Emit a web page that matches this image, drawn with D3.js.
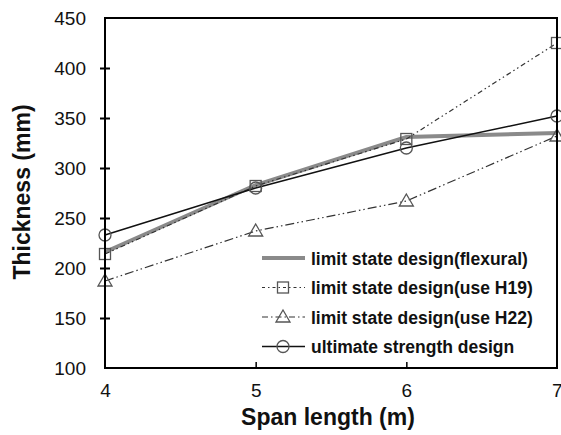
<!DOCTYPE html>
<meta charset="utf-8">
<script src="https://d3js.org/d3.v7.min.js"></script>
<style>
body { margin: 0; background: #fff; }
text { font-family: "Liberation Sans", Arial, sans-serif; fill: #111; }
</style>
<div id="chart"></div>
<script>

// data
var spans = [4, 5, 6, 7];
var flexural = [216, 283, 331, 335];
var useH19 = [214, 282, 329, 425];
var useH22 = [187, 237, 267, 332];
var ultimate = [233, 280, 320, 352];
var xTicks = [4, 5, 6, 7];
var yTicks = [100, 150, 200, 250, 300, 350, 400, 450];
var legendLabels = ["limit state design(flexural)", "limit state design(use H19)",
                    "limit state design(use H22)", "ultimate strength design"];

var width = 561, height = 435;
var margin = {top: 18, right: 4, bottom: 67, left: 105};

var svg = d3.select("#chart").append("svg")
    .attr("width", width)
    .attr("height", height);

var x = d3.scaleLinear().domain([4, 7]).range([margin.left, width - margin.right]);
var y = d3.scaleLinear().domain([100, 450]).range([height - margin.bottom, margin.top]);

// series definitions
var series = [
  {values: flexural, stroke: "#8a8a8a", width: 4, dash: null, marker: null},
  {values: useH19, stroke: "#333", width: 1.2, dash: "5,3,1.5,3,1.5,3", marker: "square"},
  {values: useH22, stroke: "#333", width: 1.2, dash: "9,3,1.5,3,1.5,3", marker: "triangle"},
  {values: ultimate, stroke: "#111", width: 1.5, dash: null, marker: "circle"}
];

var line = d3.line()
  .x(function(d) { return x(d[0]); })
  .y(function(d) { return y(d[1]); });

function drawMarker(g, type, cx, cy) {
  if (type == "square") {
    g.append("rect").attr("x", cx - 5.5).attr("y", cy - 5.5).attr("width", 11).attr("height", 11)
      .attr("fill", "none").attr("stroke", "#555").attr("stroke-width", 1.3);
  } else if (type == "triangle") {
    g.append("path").attr("d", "M" + cx + "," + (cy - 7) + "L" + (cx + 7) + "," + (cy + 5) + "L" + (cx - 7) + "," + (cy + 5) + "Z")
      .attr("fill", "none").attr("stroke", "#555").attr("stroke-width", 1.3);
  } else if (type == "circle") {
    g.append("circle").attr("cx", cx).attr("cy", cy).attr("r", 6)
      .attr("fill", "none").attr("stroke", "#555").attr("stroke-width", 1.3);
  }
}

var plot = svg.append("g");

series.forEach(function(s) {
  var pts = spans.map(function(v, i) { return [v, s.values[i]]; });
  plot.append("path")
    .datum(pts)
    .attr("d", line)
    .attr("fill", "none")
    .attr("stroke", s.stroke)
    .attr("stroke-width", s.width)
    .attr("stroke-dasharray", s.dash);
  if (s.marker) {
    pts.forEach(function(p) { drawMarker(plot, s.marker, x(p[0]), y(p[1])); });
  }
});

// frame
svg.append("rect")
  .attr("x", x(4)).attr("y", y(450))
  .attr("width", x(7) - x(4)).attr("height", y(100) - y(450))
  .attr("fill", "none").attr("stroke", "#000").attr("stroke-width", 2);

// y axis
var yAxis = svg.append("g")
  .attr("transform", "translate(" + x(4) + ",0)")
  .call(d3.axisLeft(y).tickValues(yTicks).tickSize(5).tickPadding(14));
yAxis.select(".domain").remove();
yAxis.selectAll(".tick line").attr("x2", -5).attr("x1", 5).attr("stroke-width", 2)
  .filter(function(d) { return d == 100 || d == 450; }).remove();
yAxis.selectAll("text").style("font-size", "19px").attr("fill", "#111");

// x axis
var xAxis = svg.append("g")
  .attr("transform", "translate(0," + y(100) + ")")
  .call(d3.axisBottom(x).tickValues(xTicks).tickFormat(d3.format("d")).tickSize(-6).tickPadding(16));
xAxis.select(".domain").remove();
xAxis.selectAll(".tick line").attr("stroke-width", 1.5)
  .filter(function(d) { return d == 4 || d == 7; }).remove();
xAxis.selectAll("text").style("font-size", "19px").attr("fill", "#111");
// last label sits at the right edge, keep it inside the page
xAxis.selectAll("text").filter(function(d) { return d == 7; }).attr("text-anchor", "end").attr("dx", "5");

// axis titles
svg.append("text")
  .attr("x", 328).attr("y", 425)
  .attr("text-anchor", "middle")
  .style("font-size", "23px").style("font-weight", "bold")
  .text("Span length (m)");

svg.append("text")
  .attr("transform", "translate(30,192) rotate(-90)")
  .attr("text-anchor", "middle")
  .style("font-size", "23px").style("font-weight", "bold")
  .text("Thickness (mm)");

// legend
var legend = svg.append("g");
series.forEach(function(s, i) {
  var ly = 258 + i * 29.5;
  legend.append("line")
    .attr("x1", 262).attr("x2", 305).attr("y1", ly).attr("y2", ly)
    .attr("stroke", s.stroke).attr("stroke-width", s.width)
    .attr("stroke-dasharray", s.dash ? (i == 1 ? "3,3,1.5,3" : "6,3,1.5,3") : null);
  if (s.marker) drawMarker(legend, s.marker, 283, ly);
  legend.append("text")
    .attr("x", 311).attr("y", ly + 6.5)
    .style("font-size", "17.5px")
    .style("font-weight", "bold")
    .text(legendLabels[i]);
});

</script>
